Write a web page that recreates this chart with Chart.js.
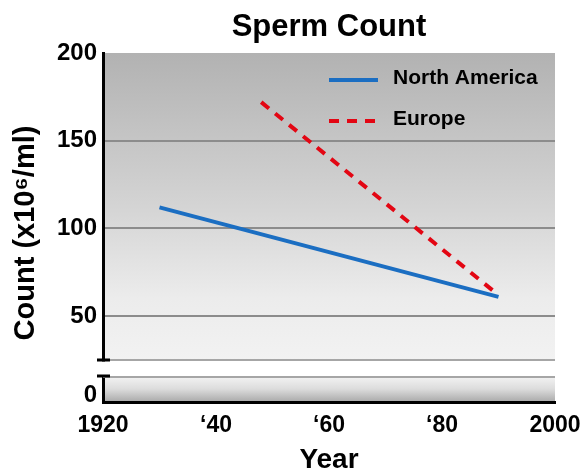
<!DOCTYPE html>
<html>
<head>
<meta charset="utf-8">
<script src="https://cdn.jsdelivr.net/npm/chart.js@4.4.1/dist/chart.umd.min.js"></script>
<style>
  html, body { margin: 0; padding: 0; background: #fff; }
  #wrap { width: 583px; height: 474px; }
</style>
</head>
<body>
<div id="wrap"><canvas id="spermChart"></canvas></div>
<script>
const FONT = "'Liberation Sans', Arial, sans-serif";

const naYears = [1930, 1990];
const naCounts = [112, 61];
const euYears = [1948, 1990];
const euCounts = [172, 62];

const yearTicks = [1920, 1940, 1960, 1980, 2000];
const yearLabels = ['1920', '\u201840', '\u201860', '\u201880', '2000'];
const countTicks = [50, 100, 150, 200];

const toPoints = (xs, ys) => xs.map((x, i) => ({ x: x, y: ys[i] }));

// gradients, broken-axis gap, caps, title and legend
const brokenAxisPlugin = {
  id: 'brokenAxis',
  beforeDraw(chart) {
    const { ctx, chartArea } = chart;
    const up = chart.scales.y;
    const low = chart.scales.y0;
    ctx.save();
    let g = ctx.createLinearGradient(0, up.top, 0, up.bottom);
    g.addColorStop(0, '#b2b2b2');
    g.addColorStop(0.5, '#d4d4d4');
    g.addColorStop(0.8, '#ececec');
    g.addColorStop(1, '#f2f2f2');
    ctx.fillStyle = g;
    ctx.fillRect(chartArea.left, up.top, chartArea.right - chartArea.left, up.bottom - up.top);

    const lowTop = low.bottom - 26;
    g = ctx.createLinearGradient(0, lowTop, 0, low.bottom);
    g.addColorStop(0, '#f4f4f4');
    g.addColorStop(0.5, '#dcdcdc');
    g.addColorStop(1, '#a9a9a9');
    ctx.fillStyle = g;
    ctx.fillRect(chartArea.left, lowTop, chartArea.right - chartArea.left, low.bottom - lowTop);
    ctx.restore();
  },
  beforeDatasetsDraw(chart) {
    const { ctx, chartArea } = chart;
    const up = chart.scales.y;
    const low = chart.scales.y0;
    const lowTop = low.bottom - 26;
    const axisX = chartArea.left;
    if (lowTop <= up.bottom) return;
    ctx.save();
    ctx.fillStyle = '#fff';
    ctx.fillRect(axisX - 4, up.bottom + 1.5, chartArea.right - axisX + 8, lowTop - up.bottom - 1.5);

    ctx.strokeStyle = '#a6a6a6';
    ctx.lineWidth = 2;
    ctx.beginPath();
    ctx.moveTo(axisX, lowTop + 1);
    ctx.lineTo(chartArea.right, lowTop + 1);
    ctx.stroke();

    ctx.strokeStyle = '#000';
    ctx.lineWidth = 3;
    ctx.beginPath();
    ctx.moveTo(axisX - 6, up.bottom);
    ctx.lineTo(axisX + 7, up.bottom);
    ctx.moveTo(axisX - 6, lowTop);
    ctx.lineTo(axisX + 7, lowTop);
    ctx.stroke();
    ctx.restore();
  },
  afterDraw(chart) {
    const { ctx, chartArea } = chart;
    ctx.save();
    ctx.fillStyle = '#000';
    ctx.textAlign = 'center';
    ctx.textBaseline = 'middle';
    ctx.font = 'bold 31px ' + FONT;
    ctx.fillText('Sperm Count', (chartArea.left + chartArea.right) / 2, 27);

    ctx.translate(26, 233);
    ctx.rotate(-Math.PI / 2);
    ctx.font = 'bold 29px ' + FONT;
    ctx.fillText('Count (x10\u2076/ml)', 0, 0);
    ctx.restore();

    // legend
    ctx.save();
    const rows = [78, 119];
    chart.data.datasets.forEach((ds, i) => {
      const y = rows[i];
      ctx.strokeStyle = ds.borderColor;
      ctx.lineWidth = 4;
      ctx.setLineDash(ds.borderDash || []);
      ctx.beginPath();
      ctx.moveTo(329, y + 2);
      ctx.lineTo(378, y + 2);
      ctx.stroke();
      ctx.setLineDash([]);
      ctx.fillStyle = '#000';
      ctx.font = 'bold 21px ' + FONT;
      ctx.textAlign = 'left';
      ctx.textBaseline = 'middle';
      ctx.fillText(ds.label, 393, y);
    });
    ctx.restore();
  }
};

new Chart(document.getElementById('spermChart'), {
  type: 'line',
  data: {
    datasets: [
      {
        label: 'North America',
        data: toPoints(naYears, naCounts),
        borderColor: '#1b6ec2',
        borderWidth: 4,
        pointRadius: 0,
        yAxisID: 'y'
      },
      {
        label: 'Europe',
        data: toPoints(euYears, euCounts),
        borderColor: '#e30613',
        borderWidth: 4,
        borderDash: [10, 8],
        pointRadius: 0,
        yAxisID: 'y'
      }
    ]
  },
  options: {
    responsive: true,
    maintainAspectRatio: false,
    animation: false,
    layout: { padding: { left: 57, right: 28, top: 53, bottom: 0 } },
    plugins: {
      legend: { display: false },
      tooltip: { enabled: false }
    },
    scales: {
      x: {
        type: 'linear',
        min: 1920,
        max: 2000,
        afterBuildTicks: (s) => { s.ticks = yearTicks.map((v) => ({ value: v })); },
        afterFit: (s) => { s.height = 72; s.paddingLeft = 0; s.paddingRight = 0; },
        ticks: {
          color: '#000',
          padding: 10,
          maxRotation: 0,
          font: { family: FONT, size: 23, weight: 'bold' },
          callback: (v) => yearLabels[yearTicks.indexOf(v)]
        },
        grid: { display: false, drawTicks: false },
        border: { color: '#000', width: 3 },
        title: {
          display: true,
          text: 'Year',
          color: '#000',
          padding: { top: 0, bottom: 0 },
          font: { family: FONT, size: 28, weight: 'bold', lineHeight: 1 }
        }
      },
      y0: {
        type: 'linear',
        stack: 'count',
        stackWeight: 42,
        min: -2,
        max: 10,
        afterBuildTicks: (s) => { s.ticks = [{ value: 0 }]; },
        afterFit: (s) => { s.width = 46; },
        ticks: {
          color: '#000',
          padding: 6,
          font: { family: FONT, size: 24, weight: 'bold' }
        },
        grid: { display: false, drawTicks: false },
        border: { color: '#000', width: 3 }
      },
      y: {
        type: 'linear',
        stack: 'count',
        stackWeight: 307,
        min: 25,
        max: 200,
        afterBuildTicks: (s) => { s.ticks = [25].concat(countTicks).map((v) => ({ value: v })); },
        afterFit: (s) => { s.width = 46; },
        ticks: {
          color: '#000',
          padding: 6,
          font: { family: FONT, size: 24, weight: 'bold' },
          callback: (v) => (countTicks.includes(v) ? String(v) : '')
        },
        grid: {
          drawTicks: false,
          lineWidth: 2,
          color: (c) => (c.tick.value === 200 ? 'rgba(0,0,0,0)' : c.tick.value === 25 ? '#a6a6a6' : '#8c8c8c')
        },
        border: { color: '#000', width: 3 }
      }
    }
  },
  plugins: [brokenAxisPlugin]
});
</script>
</body>
</html>
